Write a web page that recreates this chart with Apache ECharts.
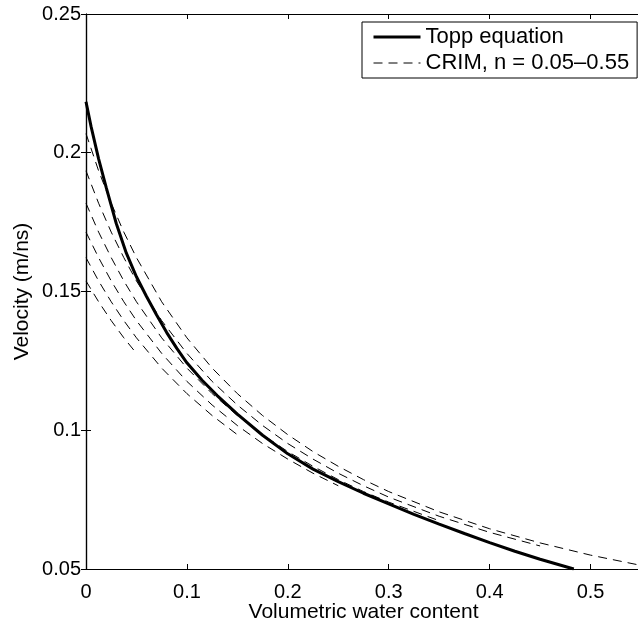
<!DOCTYPE html>
<html>
<head>
<meta charset="utf-8">
<script src="https://cdn.jsdelivr.net/npm/echarts@6/dist/echarts.min.js"></script>
<style>
  html, body { margin: 0; padding: 0; background: #fff; }
  #chart { width: 638px; height: 627px; }
</style>
</head>
<body>
<div id="chart"></div>
<script>
// ---- data ----
const xTicks = [0, 0.1, 0.2, 0.3, 0.4, 0.5];
const yTicks = [0.05, 0.1, 0.15, 0.2, 0.25];

const toppTheta = [0, 0.005, 0.0125, 0.02, 0.03, 0.04, 0.05, 0.06, 0.07, 0.08, 0.09, 0.1, 0.115, 0.13, 0.15, 0.175, 0.2, 0.225, 0.25, 0.275, 0.3, 0.325, 0.35, 0.375, 0.4, 0.425, 0.45, 0.4834];
const toppVel   = [0.2184, 0.2095, 0.1978, 0.1875, 0.1745, 0.1638, 0.1553, 0.1482, 0.1415, 0.1352, 0.1295, 0.1243, 0.1180, 0.1125, 0.1058, 0.0982, 0.0915, 0.0860, 0.0815, 0.0773, 0.0735, 0.0697, 0.0662, 0.0628, 0.0595, 0.0564, 0.0535, 0.0500];

const crimTheta = [0, 0.0125, 0.025, 0.0375, 0.05, 0.075, 0.1, 0.125, 0.15, 0.175, 0.2, 0.225, 0.25, 0.275, 0.3, 0.35, 0.4, 0.45, 0.5, 0.55];
const crimN005 = [0.1538, 0.1463, 0.1395, 0.1333, 0.1277];
const crimN015 = [0.1622, 0.1538, 0.1463, 0.1395, 0.1333, 0.1224, 0.1132, 0.1053, 0.0984];
const crimN025 = [0.1714, 0.1622, 0.1538, 0.1463, 0.1395, 0.1277, 0.1176, 0.1091, 0.1017, 0.0952, 0.0896, 0.0845, 0.0800];
const crimN035 = [0.1818, 0.1714, 0.1622, 0.1538, 0.1463, 0.1333, 0.1224, 0.1132, 0.1053, 0.0984, 0.0923, 0.0870, 0.0822, 0.0779, 0.0741, 0.0674];
const crimN045 = [0.1935, 0.1818, 0.1714, 0.1622, 0.1538, 0.1395, 0.1277, 0.1176, 0.1091, 0.1017, 0.0952, 0.0896, 0.0845, 0.0800, 0.0759, 0.0690, 0.0632, 0.0583];
const crimN055 = [0.2069, 0.1935, 0.1818, 0.1714, 0.1622, 0.1463, 0.1333, 0.1224, 0.1132, 0.1053, 0.0984, 0.0923, 0.0870, 0.0822, 0.0779, 0.0706, 0.0645, 0.0594, 0.0550, 0.0513];

const toppName = 'Topp equation';
const crimName = 'CRIM, n = 0.05\u20130.55';
const xName = 'Volumetric water content';
const yName = 'Velocity (m/ns)';

// ---- build ----
const FONT = "'Liberation Sans', Arial, Helvetica, sans-serif";
const zip = (xs, ys) => ys.map((y, i) => [xs[i], y]);
const crimSets = [crimN005, crimN015, crimN025, crimN035, crimN045, crimN055];

const axisCommon = {
  type: 'value',
  axisLine: { show: true, lineStyle: { color: '#000', width: 1.2 } },
  axisTick: { show: true, inside: true, length: 5, lineStyle: { color: '#000', width: 1 } },
  splitLine: { show: false },
  axisLabel: { color: '#000', fontFamily: FONT, fontSize: 20 }
};

const series = [];
series.push({
  name: toppName,
  type: 'line',
  data: zip(toppTheta, toppVel),
  showSymbol: false,
  symbol: 'none',
  smooth: false,
  color: '#000',
  lineStyle: { color: '#000', width: 3 },
  z: 3
});
crimSets.forEach(vals => {
  series.push({
    name: crimName,
    type: 'line',
    data: zip(crimTheta, vals),
    showSymbol: false,
    symbol: 'none',
    smooth: false,
    color: '#000',
    lineStyle: { color: '#000', width: 1, type: [9, 6] },
    z: 2
  });
});

const chart = echarts.init(document.getElementById('chart'), null, { renderer: 'canvas' });
chart.setOption({
  animation: false,
  backgroundColor: '#fff',
  color: ['#000'],
  grid: { left: 86, top: 14, width: 555, height: 555, containLabel: false, outerBoundsMode: 'none' },
  xAxis: [
    Object.assign({}, axisCommon, {
      position: 'bottom', min: 0, max: 0.55, interval: 0.1,
      axisLabel: Object.assign({}, axisCommon.axisLabel, { margin: 13, showMaxLabel: false,
        formatter: v => (xTicks.some(t => Math.abs(t - v) < 1e-9) ? String(+v.toFixed(2)) : '') }),
      name: xName, nameLocation: 'middle', nameGap: 33, nameMoveOverlap: false,
      nameTextStyle: { color: '#000', fontFamily: FONT, fontSize: 21 }
    }),
    Object.assign({}, axisCommon, {
      position: 'top', min: 0, max: 0.55, interval: 0.1,
      axisLabel: { show: false }
    })
  ],
  yAxis: [
    Object.assign({}, axisCommon, {
      position: 'left', min: 0.05, max: 0.25, interval: 0.05,
      axisLabel: Object.assign({}, axisCommon.axisLabel, { margin: 5,
        formatter: v => (yTicks.some(t => Math.abs(t - v) < 1e-9) ? String(+v.toFixed(2)) : '') }),
      name: yName, nameLocation: 'middle', nameGap: 53, nameMoveOverlap: false,
      nameTextStyle: { color: '#000', fontFamily: FONT, fontSize: 21 }
    }),
    Object.assign({}, axisCommon, {
      position: 'right', min: 0.05, max: 0.25, interval: 0.05,
      axisLabel: { show: false }
    })
  ],
  legend: {
    show: true,
    type: 'plain',
    left: 362, top: 22, right: 'auto', bottom: 'auto',
    orient: 'vertical',
    align: 'left',
    itemWidth: 47, itemHeight: 14, itemGap: 4,
    padding: [4, 8, 4, 10],
    borderColor: '#000', borderWidth: 1,
    backgroundColor: '#fff',
    selectedMode: false,
    itemStyle: { color: 'rgba(0,0,0,0)', borderColor: 'rgba(0,0,0,0)', borderWidth: 0 },
    lineStyle: { width: 'inherit' },
    textStyle: { color: '#000', fontFamily: FONT, fontSize: 22 },
    data: [toppName, crimName]
  },
  series: series
});
</script>
</body>
</html>
